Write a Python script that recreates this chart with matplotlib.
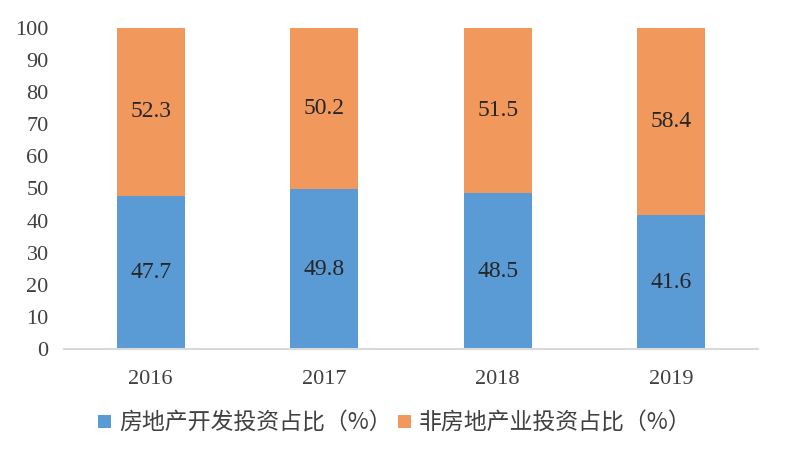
import matplotlib.pyplot as plt
import numpy as np

years = ['2016', '2017', '2018', '2019']
real_estate = [47.7, 49.8, 48.5, 41.6]
non_real_estate = [52.3, 50.2, 51.5, 58.4]
yticks = list(range(0, 101, 10))

blue = '#5B9BD5'
orange = '#F1995C'
serif = ['Liberation Serif', 'DejaVu Serif']
cjk = ['Noto Sans CJK SC', 'DejaVu Sans']

fig = plt.figure(figsize=(7.85, 4.58), dpi=100)
ax = fig.add_axes([0.0815, 0.238, 0.884, 0.701])

x = np.arange(len(years))
w = 0.39
b1 = ax.bar(x, real_estate, w, color=blue, label='房地产开发投资占比（%）', zorder=2)
b2 = ax.bar(x, non_real_estate, w, bottom=real_estate, color=orange,
            label='非房地产业投资占比（%）', zorder=2)

# labels in the middle of each segment
for i in range(len(years)):
    ax.text(x[i], real_estate[i] / 2, f'{real_estate[i]:.1f}', ha='center', va='center',
            fontsize=17, color='#262626', family=serif)
    ax.text(x[i], real_estate[i] + non_real_estate[i] / 2, f'{non_real_estate[i]:.1f}',
            ha='center', va='center', fontsize=17, color='#262626', family=serif)

ax.set_xlim(-0.5, len(years) - 0.5)
ax.set_ylim(0, 100)
ax.set_yticks(yticks)
ax.set_xticks(x)
ax.set_xticklabels(years)
for lab in ax.get_xticklabels() + ax.get_yticklabels():
    lab.set_family(serif)
    lab.set_fontsize(16)
    lab.set_color('#404040')
ax.tick_params(axis='both', length=0)
ax.tick_params(axis='x', pad=15)
ax.tick_params(axis='y', pad=11)

for s in ['top', 'right', 'left']:
    ax.spines[s].set_visible(False)
ax.spines['bottom'].set_color('#D9D9D9')
ax.spines['bottom'].set_linewidth(1.5)

fig.legend(handles=[b1, b2], loc='center', bbox_to_anchor=(0.503, 0.076), ncol=2,
           frameon=False, prop={'family': cjk, 'size': 16.5}, handlelength=0.55,
           handleheight=0.55, handletextpad=0.35, columnspacing=0.3, labelcolor='#404040')

fig.savefig('out.png', dpi=100)
